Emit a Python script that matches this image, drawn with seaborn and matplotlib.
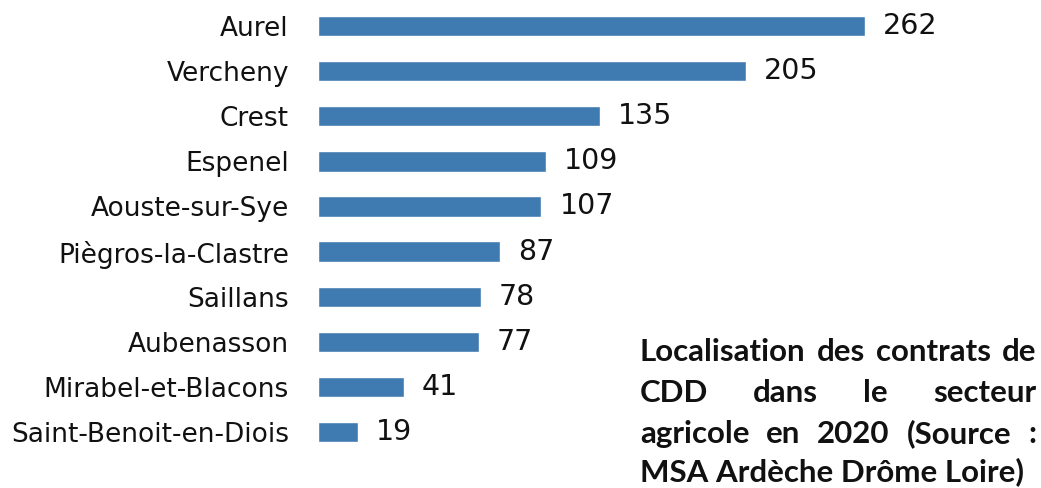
import matplotlib
matplotlib.use("Agg")
import matplotlib.pyplot as plt
import seaborn as sns
import pandas as pd

# values
communes = ['Aurel', 'Vercheny', 'Crest', 'Espenel', 'Aouste-sur-Sye',
            'Piègros-la-Clastre', 'Saillans', 'Aubenasson',
            'Mirabel-et-Blacons', 'Saint-Benoit-en-Diois']
contrats = [262, 205, 135, 109, 107, 87, 78, 77, 41, 19]
title_lines = ['Localisation des contrats de',
               'CDD dans le secteur',
               'agricole en 2020 (Source :',
               'MSA Ardèche Drôme Loire)']

df = pd.DataFrame({'commune': communes, 'contrats': contrats})

sns.set_theme(style='white')
plt.rcParams['font.family'] = ['DejaVu Sans']

W, H = 1041, 488
fig = plt.figure(figsize=(W / 100, H / 100), dpi=100)
ax = fig.add_axes([318 / W, 1 - 454.6 / H, (W - 318) / W, 451.1 / H])

sns.barplot(data=df, x='contrats', y='commune', color='#3f7bb0',
            saturation=1, width=0.45, ax=ax)
ax.set_xlim(0, (W - 318) / 2.088)
ax.bar_label(ax.containers[0], padding=13, fontsize=20.5, color='#111111')

ax.set_xlabel('')
ax.set_ylabel('')
ax.set_xticks([])
ax.tick_params(axis='y', length=0, pad=21, labelsize=19, labelcolor='#111111')
sns.despine(ax=ax, left=True, bottom=True)

# justified text block at the lower right
fig.canvas.draw()
renderer = fig.canvas.get_renderer()
x0, x1 = 640, 1036
centers = [352, 393, 434, 472]
fs = 22.5
for i, line in enumerate(title_lines):
    words = line.split(' ')
    y = 1 - centers[i] / H
    if i == len(title_lines) - 1:
        fig.text(x0 / W, y, line, fontsize=fs, fontweight='bold',
                 family='Lato', va='center', ha='left', color='#111111')
        continue
    texts = [fig.text(0, y, w, fontsize=fs, fontweight='bold', family='Lato',
                      va='center', ha='left', color='#111111') for w in words]
    widths = [t.get_window_extent(renderer).width for t in texts]
    gap = (x1 - x0 - sum(widths)) / (len(words) - 1)
    x = x0
    for t, w in zip(texts, widths):
        t.set_x(x / W)
        x += w + gap

fig.savefig('out.png', dpi=100)
